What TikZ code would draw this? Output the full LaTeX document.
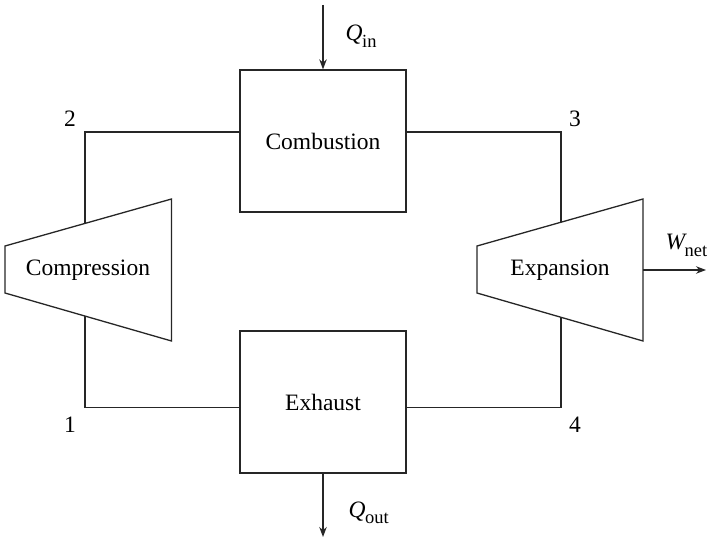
\documentclass[tikz,border=0pt]{standalone}
\usepackage{fontspec}
\setmainfont{Liberation Serif}
\usetikzlibrary{arrows.meta}

% quantity with a lowered upright subscript, e.g. Q_in
\newcommand{\qty}[2]{{\itshape #1}\kern-0.5pt\lower6.5pt\hbox{\fontsize{18.5}{22}\selectfont #2}}

\begin{document}
\begin{tikzpicture}[x=1pt,y=-1pt,
  line width=1.3pt,
  every node/.style={font=\fontsize{23.5}{28}\selectfont},
  box/.style={draw=black!85, minimum width=166pt, minimum height=142pt, inner sep=0pt},
  flow/.style={draw=black!85},
  heat/.style={draw=black!85, -{Stealth[length=10pt,width=7.5pt]}},
  machine/.style={draw=black!85, line join=miter},
  lbl/.style={inner sep=0pt}]

  \useasboundingbox (0,0) rectangle (710,540);

  % heat exchangers
  \node[box] (comb) at (323,141) {Combustion};
  \node[box] (exh)  at (323,402) {Exhaust};

  % compressor and turbine outlines
  \draw[machine] (5,246) -- (171.5,199) -- (171.5,341) -- (5,293) -- cycle;
  \draw[machine] (477,246) -- (643,199) -- (643,341) -- (477,293) -- cycle;
  \node[lbl] (compr) at (88,270) {Compression};
  \node[lbl] (expan) at (560,270) {Expansion};

  % corner and junction points of the loop
  \coordinate (k2) at (85,132);
  \coordinate (c2) at (85,223.5);
  \coordinate (k1) at (85,407.5);
  \coordinate (c1) at (85,316.5);
  \coordinate (k3) at (561,132);
  \coordinate (e3) at (561,222.5);
  \coordinate (k4) at (561,407.5);
  \coordinate (e4) at (561,317.5);
  \coordinate (wout) at (643,270);
  \coordinate (wend) at (706,270);
  \coordinate (qin)  at (323,5);
  \coordinate (qout) at (323,537);

  % working-fluid loop
  \draw[flow] (c2) -- (k2) -- (comb.west |- k2);
  \draw[flow] (comb.east |- k3) -- (k3) -- (e3);
  \draw[flow] (e4) -- (k4) -- (exh.east |- k4);
  \draw[flow] (exh.west |- k1) -- (k1) -- (c1);

  % heat and work transfers
  \draw[heat] (qin) -- (comb.north);
  \draw[heat] (exh.south) -- (qout);
  \draw[heat] (wout) -- (wend);

  % state labels
  \node[lbl] (s2) at (70,119) {2};
  \node[lbl] (s3) at (575,119) {3};
  \node[lbl] (s1) at (70,425) {1};
  \node[lbl] (s4) at (575,425) {4};

  % transfer labels
  \node[lbl, anchor=base west] (lqin)  at (345,41) {\qty{Q}{in}};
  \node[lbl, anchor=base west] (lqout) at (348,517) {\qty{Q}{out}};
  \node[lbl, anchor=base west] (lw)    at (665,250) {\qty{W}{net}};
\end{tikzpicture}
\end{document}
